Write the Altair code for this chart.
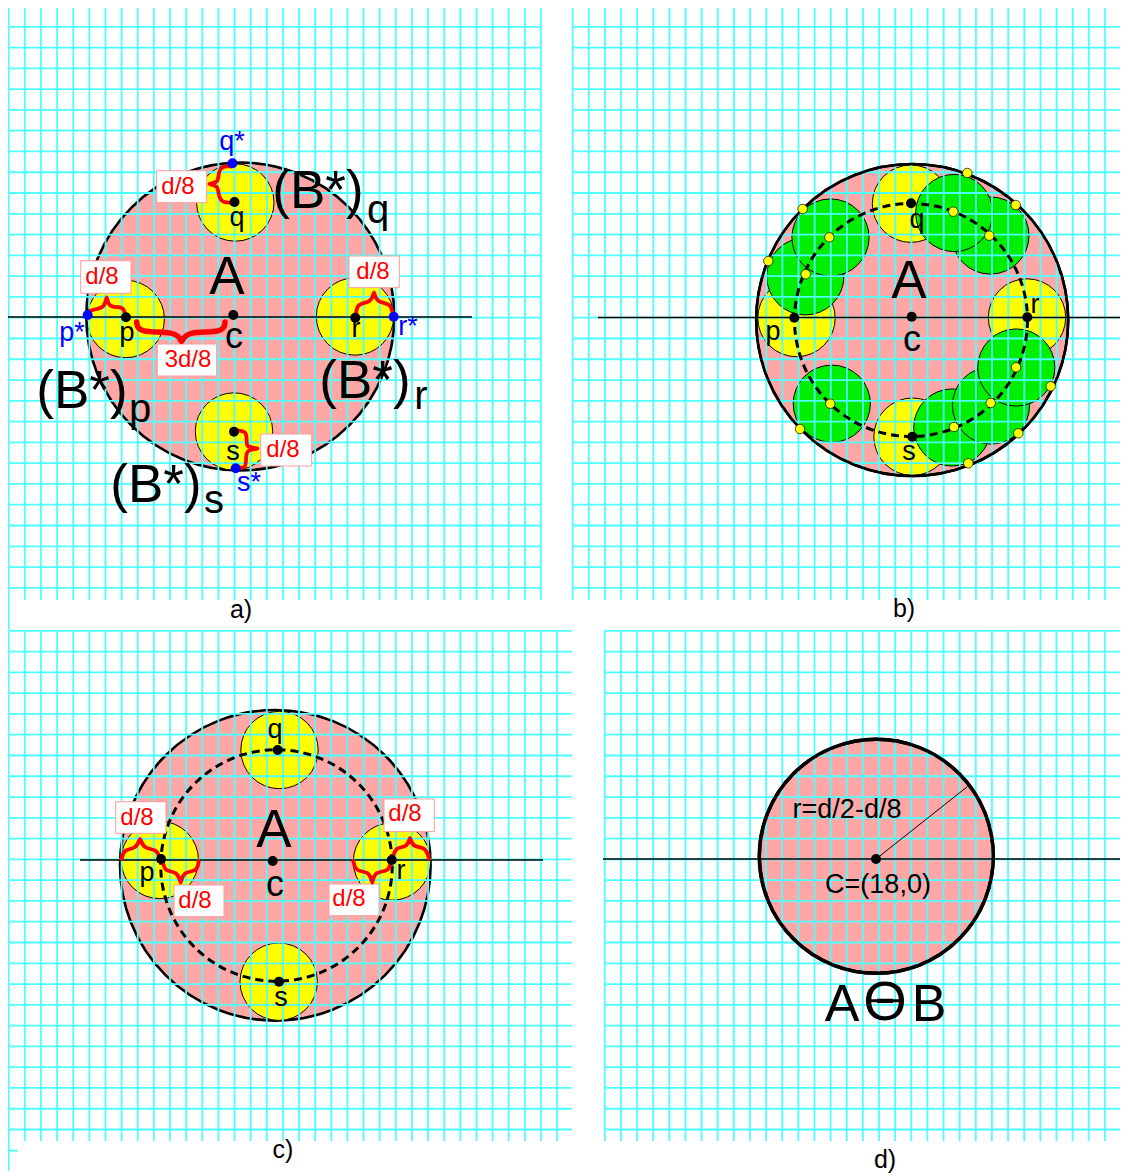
import altair as alt
import pandas as pd

alt.data_transformers.disable_max_rows()

# ---------- page window of the figure (pixel-like units) ----------
X_MIN, X_MAX = 8, 1120
Y_MIN, Y_MAX = 8, 1176

PINK = "#ffa6a6"
YELLOW = "#ffff00"
GREEN = "#00ee00"
CYAN = "#4dffff"
RED = "#ff0000"
BLUE = "#0000ff"
FONT = "Liberation Sans"

CELL_W = 16.13
CELL_H = 20.78
grid_panels = [
    (8.7, 541, 6.0, 589, 600),
    (572.7, 1128, 6.0, 589, 600),
    (8.7, 572, 630.8, 1130, 1141),
    (604.8, 1128, 630.8, 1130, 1141),
]
grid_extra = [(8.7, 8.7, 600, 630), (8.7, 8.7, 1141, 1171), (8.7, 18, 1150.7, 1150.7)]

big_discs = [
    (240.3, 316.5, 308),
    (912.2, 320.0, 312),
    (275.3, 865.3, 310.6),
]
result_disc = [(876.3, 856.3, 234)]

yellow_discs = [
    (235.3, 202.5), (125.7, 319.0), (355.0, 316.5), (234.0, 431.5),
    (911.0, 203.7), (796.5, 318.0), (1027.0, 317.5), (912.5, 436.7),
    (279.5, 750.0), (159.8, 860.0), (392.0, 861.5), (278.7, 981.7),
]
YELLOW_D = 77.4

green_discs = [
    (805.3, 276.4), (830.5, 237.5), (990.4, 235.5), (954.2, 213.0),
    (952.3, 427.5), (991.0, 405.5), (1016.3, 367.5), (831.8, 403.7),
]
GREEN_D = 77.2

dashed_loci = [(911.0, 320.0, 233), (276.5, 865.5, 231.5)]

long_lines = [
    (5, 472, 317, 317, 1.6),
    (598, 1128, 317.5, 317.5, 1.6),
    (80, 543, 860, 860, 1.6),
    (603, 1128, 859, 859, 1.3),
    (876, 967.3, 859, 786.7, 1.0),
    (866, 904, 1000.7, 1000.7, 3.0),
]

black_dots = [
    (233.3, 315), (126, 317.3), (234.5, 202), (355.3, 317.7), (234, 431.7),
    (911.7, 316.7), (794.3, 317.7), (911, 203.3), (1027.3, 317.3), (912.3, 436.7),
    (272.7, 861), (161, 859), (391.7, 860), (277.7, 750), (279, 981.7),
    (876, 859),
]
blue_dots = [(232.5, 163.3), (87.7, 315), (393.7, 316.7), (235.7, 468.3)]
yellow_dots = [
    (805.7, 274.3), (829.3, 237.3), (953.3, 211.7), (989.3, 235.7),
    (1016, 367.3), (990.7, 403), (954, 427), (830.3, 403.7),
    (967.3, 173), (1015.7, 205), (802.7, 209), (768.3, 261),
    (1050.7, 386.3), (1018.3, 433.3), (968.3, 463.3), (800, 429),
]

label_boxes = [
    (156.7, 206.7, 170.7, 202.7),
    (80.7, 131, 260.7, 293.3),
    (157.3, 216.7, 344, 376),
    (349, 399.3, 256, 287.7),
    (260.7, 311.7, 434, 466),
    (115.7, 166, 801.7, 833.3),
    (384, 434.3, 799, 831.7),
    (174, 224, 885, 916.7),
    (329, 379, 884, 915.7),
]

# curly braces: end, corner, shoulder, tip (repeated to keep it sharp), shoulder, corner, end
thin_braces = [
    [(231.7, 166.5), (220, 166), (218, 178), (218, 182), (209, 184), (209, 184), (218, 186), (218, 192), (221, 203), (231.7, 202.5)],
    [(236.7, 430.5), (247, 431), (246.5, 443), (247, 447), (258, 448.5), (258, 448.5), (247, 450), (246, 456), (246, 469), (238, 467)],
    [(89.3, 311), (100, 308), (104, 307), (106.7, 297), (106.7, 297), (109, 307), (118, 307), (124, 308), (125.5, 316)],
    [(356, 315), (357, 303), (371, 303), (374, 292), (374, 292), (377, 303), (391, 303), (393, 315)],
    [(121.7, 859), (124, 849), (136, 849), (140, 838.5), (140, 838.5), (144, 849), (157, 849), (160, 859)],
    [(162.7, 861), (165, 872), (177, 871), (180.7, 883), (180.7, 883), (184, 871), (197, 872), (198.7, 861)],
    [(353.3, 861), (356, 872), (369, 871), (372.3, 883), (372.3, 883), (375, 871), (389, 872), (390.7, 861)],
    [(393.3, 856), (396, 847), (407, 847.5), (410, 837.5), (410, 837.5), (413, 847.5), (426, 847), (429, 859)],
]
thick_brace = [[(136.7, 322), (138, 333), (176, 331), (181.7, 342), (181.7, 342),
                (187, 331), (224, 333), (225, 322)]]

texts = [
    ("q*", 232, 142, 27, BLUE), ("p*", 72, 333, 27, BLUE), ("r*", 408, 327, 27, BLUE), ("s*", 249, 483, 27, BLUE),
    ("q", 237, 218, 27, "black"), ("p", 127, 333, 27, "black"), ("r", 356, 329, 27, "black"), ("s", 233, 452, 27, "black"),
    ("c", 234, 337, 36, "black"), ("A", 227, 278, 53, "black"),
    ("d/8", 178, 187, 24, RED), ("d/8", 102, 277, 24, RED), ("3d/8", 188, 360, 24, RED),
    ("d/8", 373, 272, 24, RED), ("d/8", 283, 450, 24, RED),
    ("(B*)", 318, 192, 53, "black"), ("q", 378, 211, 40, "black"),
    ("(B*)", 82, 392, 53, "black"), ("p", 140, 410, 40, "black"),
    ("(B*)", 365, 382, 53, "black"), ("r", 421, 397, 40, "black"),
    ("(B*)", 156, 486, 53, "black"), ("s", 214, 501, 40, "black"),
    ("p", 773, 332, 27, "black"), ("q", 917, 220, 27, "black"), ("r", 1035, 305, 27, "black"), ("s", 909, 452, 27, "black"),
    ("c", 912, 340, 36, "black"), ("A", 909, 282, 53, "black"),
    ("q", 275, 730, 27, "black"), ("p", 147, 873, 27, "black"), ("r", 401, 871, 27, "black"), ("s", 281, 998, 27, "black"),
    ("c", 275, 885, 36, "black"), ("A", 274, 831, 53, "black"),
    ("d/8", 137, 818, 24, RED), ("d/8", 405, 814, 24, RED), ("d/8", 195, 901, 24, RED), ("d/8", 349, 899, 24, RED),
    ("r=d/2-d/8", 847, 810, 27, "black"), ("C=(18,0)", 878, 885, 27, "black"),
    ("A", 842, 1005, 52, "black"), ("\u0398", 885, 1003, 56, "black"), ("B", 929, 1005, 52, "black"),
    ("a)", 241, 610, 25, "black"), ("b)", 904, 609, 25, "black"), ("c)", 283, 1150, 25, "black"), ("d)", 885, 1160, 25, "black"),
]


def frange(a, b, s):
    out, v = [], a
    while v <= b + 0.01:
        out.append(v)
        v += s
    return out


grid_rows = []
for x0, x1, y0, y_last, y_end in grid_panels:
    for xv in frange(x0, x1, CELL_W):
        grid_rows.append(dict(x=xv, x2=xv, y=y0, y2=y_end))
    for yv in frange(y0, y_last, CELL_H):
        grid_rows.append(dict(x=x0, x2=x1, y=yv, y2=yv))
for a, b, c, d in grid_extra:
    grid_rows.append(dict(x=a, x2=b, y=c, y2=d))

X = alt.Scale(domain=[X_MIN, X_MAX])
Y = alt.Scale(domain=[Y_MAX, Y_MIN])


def ex(f="x"):
    return alt.X(f"{f}:Q", scale=X, axis=None)


def ey(f="y"):
    return alt.Y(f"{f}:Q", scale=Y, axis=None)


def discs(rows, fill, stroke_width):
    df = pd.DataFrame(rows, columns=["x", "y", "d"])
    df["area"] = df["d"] * df["d"]
    return alt.Chart(df).mark_point(
        shape="circle", filled=True, fill=fill, stroke="black",
        strokeWidth=stroke_width, opacity=1,
    ).encode(x=ex(), y=ey(), size=alt.Size("area:Q", scale=None))


def rings(rows, width, dash=None):
    df = pd.DataFrame(rows, columns=["x", "y", "d"])
    df["area"] = df["d"] * df["d"]
    kw = dict(strokeDash=dash) if dash else {}
    return alt.Chart(df).mark_point(
        shape="circle", filled=False, stroke="black", strokeWidth=width, opacity=1, **kw
    ).encode(x=ex(), y=ey(), size=alt.Size("area:Q", scale=None))


def dots(rows, d, fill, stroke=None, sw=0):
    df = pd.DataFrame(rows, columns=["x", "y"])
    df["area"] = d * d
    kw = dict(stroke=stroke, strokeWidth=sw) if stroke else dict(strokeWidth=0)
    return alt.Chart(df).mark_point(
        shape="circle", filled=True, fill=fill, opacity=1, **kw
    ).encode(x=ex(), y=ey(), size=alt.Size("area:Q", scale=None))


def braces(groups, width, interp):
    rows = [dict(id=g, i=i, x=p[0], y=p[1]) for g, pts in enumerate(groups) for i, p in enumerate(pts)]
    return alt.Chart(pd.DataFrame(rows)).mark_line(
        color=RED, strokeWidth=width, interpolate=interp, strokeCap="round", strokeJoin="round"
    ).encode(x=ex(), y=ey(), detail="id:N", order="i:Q")


grid_df = pd.DataFrame(grid_rows)
grid_df = grid_df[grid_df["x"] <= X_MAX].copy()
grid_df["x2"] = grid_df["x2"].clip(upper=X_MAX)
grid_layer = alt.Chart(grid_df).mark_rule(color=CYAN, strokeWidth=1.8).encode(
    x=ex(), x2="x2:Q", y=ey(), y2="y2:Q"
)

lines_df = pd.DataFrame(long_lines, columns=["x", "x2", "y", "y2", "w"])
lines_df["x2"] = lines_df["x2"].clip(upper=X_MAX)
lines_layer = alt.Chart(lines_df).mark_rule(color="black").encode(
    x=ex(), x2="x2:Q", y=ey(), y2="y2:Q", strokeWidth=alt.StrokeWidth("w:Q", scale=None)
)

box_df = pd.DataFrame(label_boxes, columns=["x", "x2", "y", "y2"])
box_layer = alt.Chart(box_df).mark_rect(fill="white", stroke="#ff9c9c", strokeWidth=1).encode(
    x=ex(), x2="x2:Q", y=ey(), y2="y2:Q"
)

text_df = pd.DataFrame(texts, columns=["t", "x", "y", "fs", "col"])
text_layer = alt.Chart(text_df).mark_text(font=FONT, baseline="middle", align="center").encode(
    x=ex(), y=ey(), text="t:N",
    size=alt.Size("fs:Q", scale=None),
    color=alt.Color("col:N", scale=None),
)

yellow_rows = [(x, y, YELLOW_D) for x, y in yellow_discs]
green_rows = [(x, y, GREEN_D) for x, y in green_discs]

chart = alt.layer(
    discs(big_discs, PINK, 2.6),
    discs(result_disc, PINK, 3.4),
    discs(yellow_rows, YELLOW, 1.0),
    discs(green_rows, GREEN, 1.0),
    grid_layer,
    lines_layer,
    rings([big_discs[1]], 2.6),
    rings(result_disc, 3.4),
    rings(dashed_loci, 3, [8, 5]),
    box_layer,
    braces(thin_braces, 3.8, "basis"),
    braces(thick_brace, 5.5, "basis"),
    dots(black_dots, 10, "black"),
    dots(blue_dots, 10, BLUE),
    dots(yellow_dots, 9.5, YELLOW, "black", 0.7),
    text_layer,
).properties(
    width=X_MAX - X_MIN,
    height=Y_MAX - Y_MIN,
    padding=0,
    autosize=alt.AutoSizeParams(type="none"),
).configure_view(stroke=None)

chart.save("out.html", embed_options={"renderer": "svg", "actions": False})
